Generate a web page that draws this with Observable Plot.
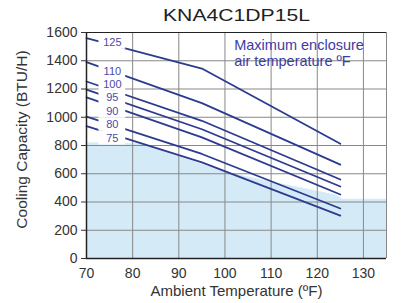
<!DOCTYPE html>
<html><head><meta charset="utf-8">
<script src="https://cdn.jsdelivr.net/npm/d3@7"></script>
<script src="https://cdn.jsdelivr.net/npm/@observablehq/plot@0.6"></script>
<style>body{margin:0;background:#fff;} svg{display:block}</style>
</head><body><div id="chart"></div>
<script>
const titleText = "KNA4C1DP15L";
const xLabel = "Ambient Temperature (ºF)";
const yLabel = "Cooling Capacity (BTU/H)";
const noteText = "Maximum enclosure\nair temperature ºF";

const temps = [70, 95, 125];
const seriesNames = ["125", "110", "100", "95", "90", "80", "75"];
const s125 = [1560, 1345, 812];
const s110 = [1390, 1100, 665];
const s100 = [1253, 975, 559];
const s95  = [1196, 915, 510];
const s90  = [1140, 858, 453];
const s80  = [1005, 740, 354];
const s75  = [937, 680, 304];
const seriesValues = [s125, s110, s100, s95, s90, s80, s75];

// label positions
const labelX = 75.6;
const labelVals = [1529, 1324, 1232, 1138, 1044, 948, 852];

const xTicks = [70, 80, 90, 100, 110, 120, 130];
const yTicks = [0, 200, 400, 600, 800, 1000, 1200, 1400, 1600];

// light blue background shape
const bgX = [70, 82, 100, 124, 125.5, 135];
const bgY = [820, 810, 610, 450, 420, 420];

const table = [];
seriesNames.forEach((name, i) => temps.forEach((t, j) => table.push({series: name, x: t, y: seriesValues[i][j]})));
const labels = seriesNames.map((name, i) => ({text: name, x: labelX, y: labelVals[i]}));
const bg = bgX.map((x, i) => ({x, y: bgY[i]}));

const font = "'Liberation Sans', Arial, sans-serif";
const plot = Plot.plot({
  width: 412, height: 303,
  marginLeft: 86, marginRight: 26, marginTop: 32, marginBottom: 45,
  style: {fontFamily: font, fontSize: "14px", color: "#333", background: "#fff"},
  x: {domain: [70, 135]},
  y: {domain: [0, 1600]},
  marks: [
    Plot.areaY(bg, {x: "x", y: "y", fill: "#d4ebf7"}),
    Plot.gridX(xTicks, {stroke: "#888", strokeOpacity: 1, strokeWidth: 1}),
    Plot.gridY(yTicks, {stroke: "#888", strokeOpacity: 1, strokeWidth: 1}),
    Plot.ruleX([135], {stroke: "#888"}),
    Plot.line(table, {x: "x", y: "y", z: "series", stroke: "#2c3b8f", strokeWidth: 1.8}),
    // white gaps behind the series labels
    Plot.rect(labels, {x1: d => d.x - 2.9, x2: d => d.x + 2.9, y1: d => d.y - 48, y2: d => d.y + 48, fill: "white"}),
    Plot.ruleY([1600], {stroke: "#222", strokeWidth: 1.2}),
    Plot.ruleY([0], {stroke: "#222", strokeWidth: 1.5}),
    Plot.ruleX([70], {stroke: "#222", strokeWidth: 1.5}),
    Plot.axisX({ticks: xTicks, tickSize: 0, tickPadding: 10, fontSize: 14, label: null}),
    Plot.axisY({ticks: yTicks, tickSize: 5, tickPadding: 4, fontSize: 14, label: null, tickFormat: d => String(d)}),
    Plot.text(labels, {x: "x", y: "y", text: "text", fill: "#4a4aab", fontSize: 11}),
    Plot.text([noteText], {x: 102, y: 1456, textAnchor: "start", fill: "#3c3ca3", fontSize: 14.5, lineHeight: 1.07}),
    Plot.text([titleText], {frameAnchor: "top", dy: -17, lineAnchor: "middle", fontSize: 17, fill: "#222"}),
    Plot.text([xLabel], {frameAnchor: "bottom", dy: 33, lineAnchor: "middle", fontSize: 15, fill: "#333"}),
    Plot.text([yLabel], {frameAnchor: "left", dx: -64, dy: -6, rotate: -90, textAnchor: "middle", lineAnchor: "middle", fontSize: 15.5, fill: "#333"})
  ]
});
document.getElementById("chart").appendChild(plot);
plot.querySelectorAll("text").forEach(t => {
  if (t.textContent === titleText) {
    t.setAttribute("textLength", 147);
    t.setAttribute("lengthAdjust", "spacingAndGlyphs");
  }
});
</script>
</body></html>
